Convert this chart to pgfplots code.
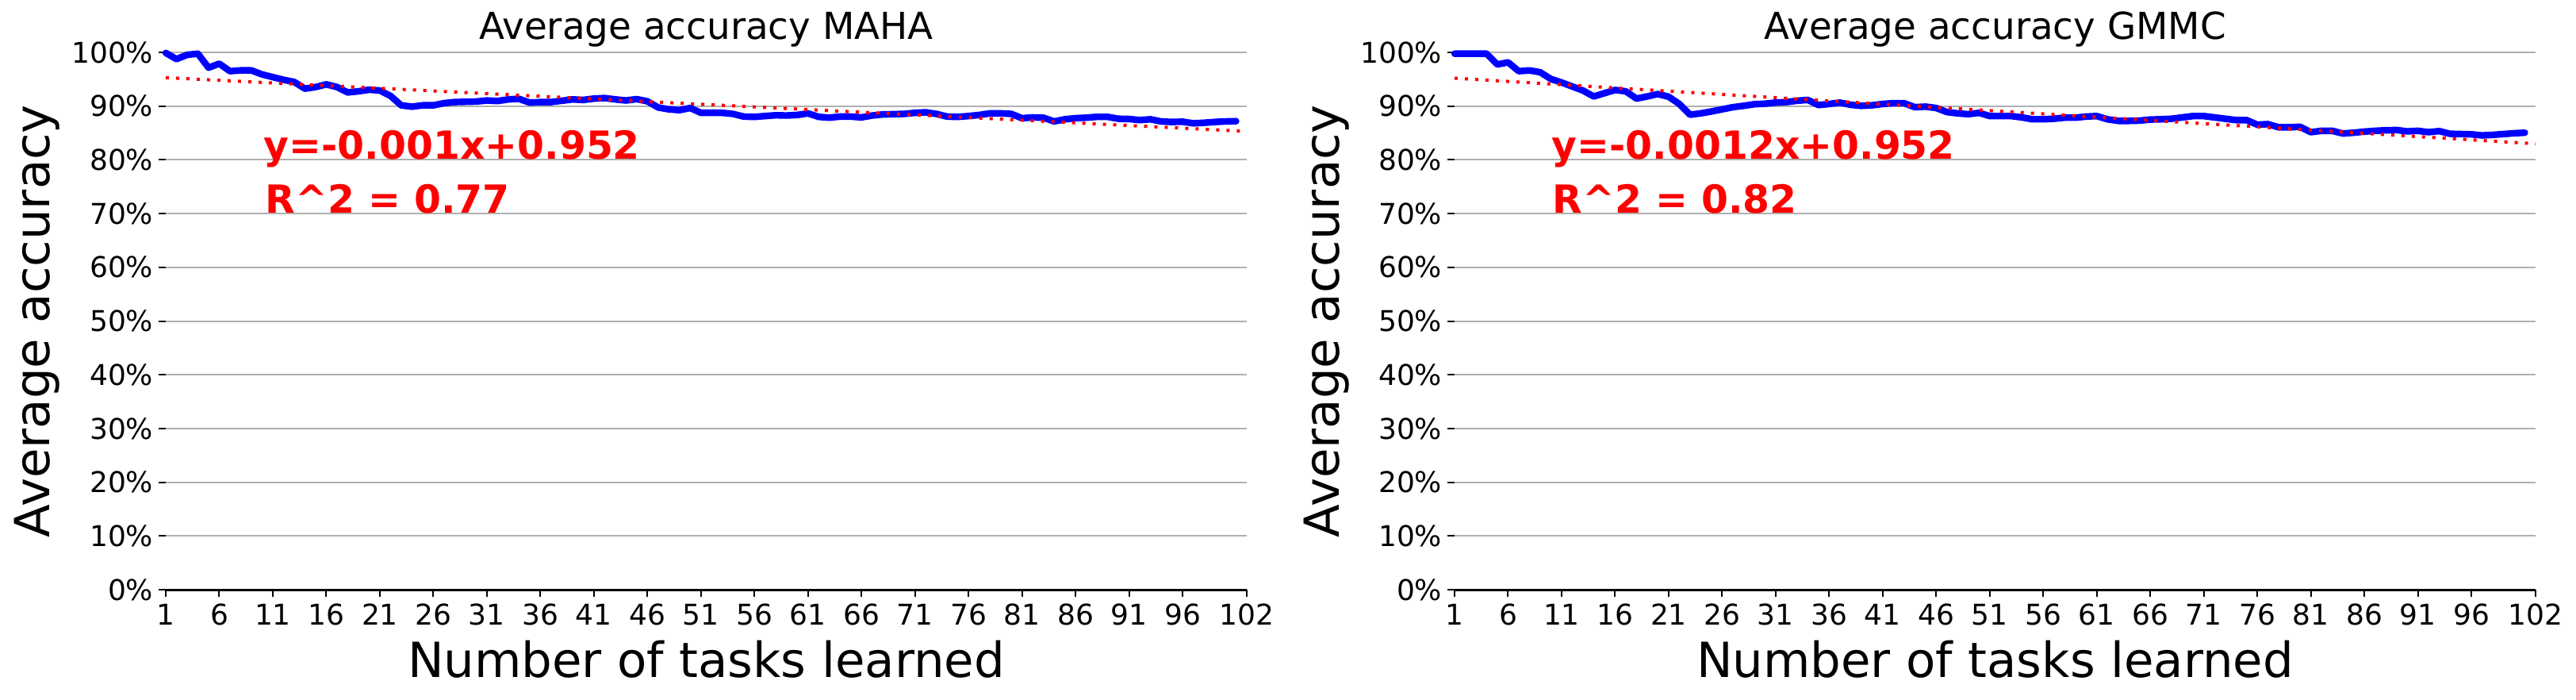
\documentclass[border=0pt]{standalone}
\usepackage{fontspec}
\setmainfont{DejaVu Sans}
\usepackage{pgfplots}
\usepackage{pgfplotstable}
\pgfplotsset{compat=1.18}
\definecolor{gridgray}{HTML}{B0B0B0}

\pgfplotstableread{
t acc
1 0.999
2 0.9875
3 0.9955
4 0.9975
5 0.9715
6 0.979
7 0.965
8 0.9665
9 0.9665
10 0.959
11 0.954
12 0.949
13 0.945
14 0.9325
15 0.9355
16 0.9405
17 0.9355
18 0.9255
19 0.9275
20 0.9305
21 0.929
22 0.919
23 0.9015
24 0.899
25 0.9015
26 0.9015
27 0.9055
28 0.9075
29 0.908
30 0.9085
31 0.9105
32 0.9095
33 0.9125
34 0.9135
35 0.9065
36 0.9075
37 0.9075
38 0.910
39 0.9125
40 0.9115
41 0.914
42 0.915
43 0.9125
44 0.9105
45 0.913
46 0.909
47 0.8975
48 0.894
49 0.8925
50 0.8965
51 0.8875
52 0.8875
53 0.8875
54 0.8855
55 0.8805
56 0.880
57 0.8815
58 0.883
59 0.8825
60 0.8835
61 0.8865
62 0.880
63 0.8785
64 0.8805
65 0.8805
66 0.879
67 0.8825
68 0.8845
69 0.885
70 0.8855
71 0.8875
72 0.8885
73 0.8855
74 0.8805
75 0.880
76 0.8815
77 0.8835
78 0.8865
79 0.8865
80 0.8855
81 0.8775
82 0.879
83 0.8785
84 0.8715
85 0.8755
86 0.8775
87 0.8785
88 0.880
89 0.880
90 0.8765
91 0.876
92 0.874
93 0.8755
94 0.8715
95 0.8705
96 0.871
97 0.868
98 0.869
99 0.8705
100 0.8715
101 0.872
}\maha

\pgfplotstableread{
t acc
1 0.9975
2 0.9975
3 0.9975
4 0.9975
5 0.9775
6 0.9815
7 0.965
8 0.9665
9 0.963
10 0.9505
11 0.944
12 0.9365
13 0.929
14 0.918
15 0.924
16 0.930
17 0.9275
18 0.914
19 0.918
20 0.9225
21 0.9175
22 0.904
23 0.884
24 0.8865
25 0.890
26 0.894
27 0.898
28 0.9005
29 0.9035
30 0.9045
31 0.9065
32 0.9075
33 0.910
34 0.9115
35 0.902
36 0.904
37 0.9065
38 0.9025
39 0.9005
40 0.9015
41 0.904
42 0.9055
43 0.9055
44 0.898
45 0.899
46 0.8965
47 0.889
48 0.8865
49 0.885
50 0.8875
51 0.8815
52 0.8815
53 0.8815
54 0.879
55 0.8755
56 0.8755
57 0.8765
58 0.8785
59 0.8785
60 0.8805
61 0.8815
62 0.8755
63 0.8725
64 0.8725
65 0.873
66 0.875
67 0.8755
68 0.8765
69 0.879
70 0.8815
71 0.8815
72 0.879
73 0.8765
74 0.874
75 0.874
76 0.8655
77 0.8665
78 0.8605
79 0.8605
80 0.8615
81 0.8515
82 0.854
83 0.854
84 0.849
85 0.8505
86 0.8525
87 0.854
88 0.855
89 0.8555
90 0.853
91 0.854
92 0.8515
93 0.8535
94 0.8485
95 0.848
96 0.8475
97 0.8455
98 0.8465
99 0.848
100 0.8495
101 0.8505
}\gmmc

\pgfplotstableread{
t acc
1 0.953
102 0.853
}\mahatrend

\pgfplotstableread{
t acc
1 0.952
102 0.830
}\gmmctrend

\pgfplotsset{
  accstyle/.style={
    scale only axis, width=340.75pt, height=169.25pt,
    anchor=south west,
    xmin=1, xmax=102, ymin=0, ymax=1,
    axis x line*=bottom, axis y line*=left,
    y axis line style={draw=none},
    x axis line style={line width=0.75pt, black},
    xtick={1,6,...,96,102},
    ytick={0,0.1,0.2,0.3,0.4,0.5,0.6,0.7,0.8,0.9,1.0},
    yticklabels={0\%,10\%,20\%,30\%,40\%,50\%,60\%,70\%,80\%,90\%,100\%},
    ymajorgrids, grid style={gridgray, line width=0.5pt},
    tick align=outside, major tick length=2.25pt,
    tick style={black, line width=0.5pt},
    /pgf/number format/assume math mode=true,
    ticklabel style={font=\fontsize{9}{10}\selectfont},
    xticklabel style={anchor=north, inner sep=0pt, yshift=-2pt},
    yticklabel style={anchor=east, inner sep=0pt, xshift=-1.5pt},
    clip=false,
  },
  accline/.style={blue, line width=2.1pt, line join=round, line cap=round},
  trendline/.style={red, line width=1pt, dash pattern=on 1pt off 2.25pt},
}

\begin{document}
\begin{tikzpicture}
\path[use as bounding box] (0,0) rectangle (812pt,220.25pt);

\begin{axis}[accstyle, at={(52.25pt,34.5pt)}]
\addplot[accline] table[x=t,y=acc] {\maha};
\addplot[trendline] table[x=t,y=acc] {\mahatrend};
\end{axis}

\begin{axis}[accstyle, at={(458.5pt,34.5pt)}]
\addplot[accline] table[x=t,y=acc] {\gmmc};
\addplot[trendline] table[x=t,y=acc] {\gmmctrend};
\end{axis}

\node[font=\fontsize{11.7}{13}\selectfont, anchor=base] at (222.625pt,207.75pt) {Average accuracy MAHA};
\node[font=\fontsize{11.7}{13}\selectfont, anchor=base] at (628.875pt,207.75pt) {Average accuracy GMMC};

\node[font=\fontsize{15.25}{18}\selectfont, anchor=base] at (222.625pt,7pt) {Number of tasks learned};
\node[font=\fontsize{15.25}{18}\selectfont, anchor=base] at (628.875pt,7pt) {Number of tasks learned};

\node[font=\fontsize{15.25}{18}\selectfont, anchor=base, rotate=90] at (15.75pt,119.125pt) {Average accuracy};
\node[font=\fontsize{15.25}{18}\selectfont, anchor=base, rotate=90] at (422pt,119.125pt) {Average accuracy};

\node[font=\bfseries\fontsize{12.2}{14}\selectfont, text=red, anchor=base west, inner sep=0pt] at (83pt,170.25pt) {y=-0.001x+0.952};
\node[font=\bfseries\fontsize{12.2}{14}\selectfont, text=red, anchor=base west, inner sep=0pt] at (83.5pt,153.25pt) {R\^{}2 = 0.77};
\node[font=\bfseries\fontsize{12.2}{14}\selectfont, text=red, anchor=base west, inner sep=0pt] at (489pt,170.25pt) {y=-0.0012x+0.952};
\node[font=\bfseries\fontsize{12.2}{14}\selectfont, text=red, anchor=base west, inner sep=0pt] at (489.25pt,153.25pt) {R\^{}2 = 0.82};
\end{tikzpicture}
\end{document}
